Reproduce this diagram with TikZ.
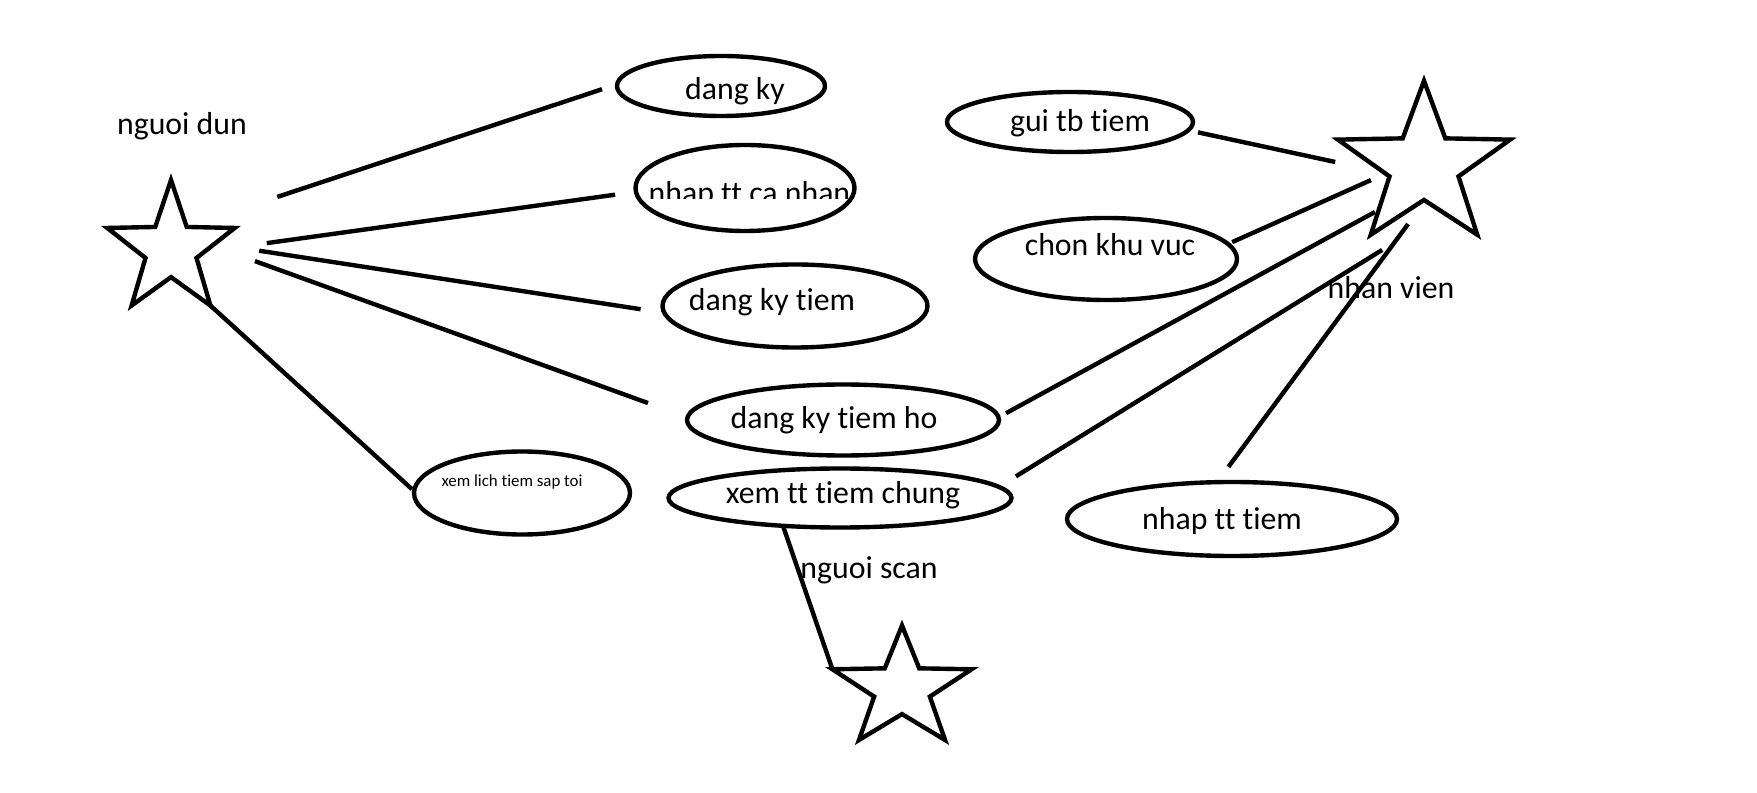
\documentclass[tikz,border=0pt]{standalone}
\usepackage{fontspec}
\setmainfont{Carlito}[Ligatures={NoCommon}]
\usetikzlibrary{shapes.geometric}
\newcommand{\pxu}{0.02cm}
\tikzset{
  usecase/.style={draw, ellipse, line width=2.5pt, inner sep=0pt, outer sep=0pt},
  actor/.style={draw, star, star points=5, star point ratio=2.5, line width=2.5pt, inner sep=0pt, outer sep=0pt},
  assoc/.style={line width=2.5pt},
  lbl/.style={anchor=base, inner sep=0pt, font=\fontsize{18.1}{20}\selectfont},
  smalllbl/.style={lbl, font=\fontsize{9.6}{11}\selectfont}
}
\begin{document}
\begin{tikzpicture}[x=0.02cm, y=-0.02cm]
        \useasboundingbox[fill=white] (0,0) rectangle (1757,793);
        % actors
        \node[actor, minimum size=134*\pxu, yscale=1.035] (nguoidun) at (171,249.4) {};
        \node[actor, minimum size=181.2*\pxu, yscale=0.939] (nhanvien) at (1424,165.9) {};
        \node[actor, minimum size=146.4*\pxu, yscale=0.864] (nguoiscan) at (902,688.8) {};
        \node[lbl] (t-nguoidun) at (182,135) {nguoi dun};
        \node[lbl] (t-nhanvien) at (1391,299) {nhan vien};
        \node[lbl] (t-nguoiscan) at (869,578) {nguoi scan};
        % use cases
        \node[usecase, minimum width=208*\pxu, minimum height=60*\pxu] (dangky) at (721,86) {};
        \node[usecase, minimum width=219*\pxu, minimum height=86*\pxu] (nhapcanhan) at (745,188) {};
        \node[usecase, minimum width=265*\pxu, minimum height=83*\pxu] (dangkytiem) at (795,306) {};
        \node[usecase, minimum width=312*\pxu, minimum height=71*\pxu] (dangkytiemho) at (843,420) {};
        \node[usecase, minimum width=216*\pxu, minimum height=83*\pxu] (xemlich) at (522,493) {};
        \node[usecase, minimum width=343*\pxu, minimum height=59*\pxu] (xemtt) at (840,498) {};
        \node[usecase, minimum width=246*\pxu, minimum height=60*\pxu] (guitb) at (1070,122) {};
        \node[usecase, minimum width=262*\pxu, minimum height=82*\pxu] (chonkhuvuc) at (1106,259) {};
        \node[usecase, minimum width=330*\pxu, minimum height=74*\pxu] (nhaptttiem) at (1232,519) {};
        \node[lbl] (t-dangky) at (735,100) {dang ky};
        \begin{scope}
          \clip (640,150) rectangle (870,199);
          \node[lbl] (t-nhapcanhan) at (749.5,204) {nhap tt ca nhan};
        \end{scope}
        \node[lbl] (t-dangkytiem) at (772,311) {dang ky tiem};
        \node[lbl] (t-dangkytiemho) at (834,429) {dang ky tiem ho};
        \node[smalllbl] (t-xemlich) at (512,486) {xem lich tiem sap toi};
        \node[lbl] (t-xemtt) at (843,503) {xem tt tiem chung};
        \node[lbl] (t-guitb) at (1080,132) {gui tb tiem};
        \node[lbl] (t-chonkhuvuc) at (1110,256) {chon khu vuc};
        \node[lbl] (t-nhaptttiem) at (1222,529) {nhap tt tiem};
        % associations
        \draw[assoc, shorten <=95.4*\pxu, shorten >=16*\pxu] (nguoidun.54) -- (dangky.179);
        \draw[assoc, shorten <=63*\pxu, shorten >=21*\pxu] (nguoidun.-4) -- (nhapcanhan.182);
        \draw[assoc, shorten <=45.3*\pxu, shorten >=24*\pxu] (nguoidun.7) -- (dangkytiem.183);
        \draw[assoc, shorten <=45.5*\pxu, shorten >=42*\pxu] (nguoidun.5) -- (dangkytiemho.179);
        \draw[assoc, shorten >=3*\pxu] (nguoidun.-54) -- (xemlich.179);
        \draw[assoc, shorten <=50*\pxu, shorten >=10*\pxu] (nhanvien.190) -- (guitb.-4);
        \draw[assoc, shorten <=16*\pxu, shorten >=4.6*\pxu] (nhanvien.192) -- (chonkhuvuc.7);
        \draw[assoc, shorten <=4.3*\pxu, shorten >=8.5*\pxu] (nhanvien.226) -- (dangkytiemho.1);
        \draw[assoc, shorten <=71.5*\pxu, shorten >=20*\pxu] (nhanvien.-69) -- (xemtt.4);
        \draw[assoc, shorten <=29*\pxu, shorten >=19*\pxu] (nhanvien.-88) -- (nhaptttiem.112);
        \draw[assoc] (xemtt.-154) -- (nguoiscan.162);
\end{tikzpicture}
\end{document}
